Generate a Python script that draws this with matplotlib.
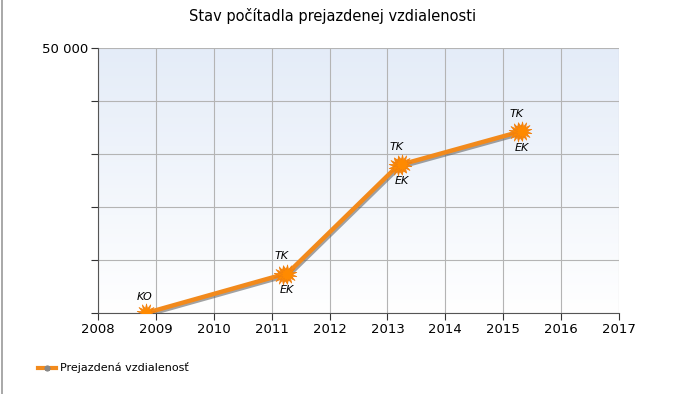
import numpy as np
import matplotlib
matplotlib.use("Agg")
import matplotlib.pyplot as plt
import matplotlib.patheffects as pe
from matplotlib.lines import Line2D
from matplotlib.colors import LinearSegmentedColormap

# Data
years = [2008.83, 2011.19, 2011.27, 2013.18, 2013.25, 2015.25, 2015.32]
distance = [0, 7250, 7450, 27800, 28050, 34100, 34250]
labels = ["KO", "TK", "EK", "TK", "EK", "TK", "EK"]
x_ticks = list(range(2008, 2018))
y_ticks = [0, 10000, 20000, 30000, 40000, 50000]
y_ticklabels = ["", "", "", "", "", "50 000"]
title = "Stav počítadla prejazdenej vzdialenosti"
series_name = "Prejazdená vzdialenosť"

fig = plt.figure(figsize=(6.87, 3.94), dpi=100)
ax = fig.add_axes([98/687, 1-313/394, (619-98)/687, (313-48)/394])

# gradient background
grad = np.linspace(0, 1, 256).reshape(-1, 1)
cmap = LinearSegmentedColormap.from_list("bg", ["#ffffff", "#e4ecf8"])
ax.imshow(grad, aspect="auto", cmap=cmap, origin="lower",
          extent=[2008, 2017, 0, 50000], zorder=0)

ax.set_xlim(2008, 2017)
ax.set_ylim(0, 50000)
ax.set_xticks(x_ticks)
ax.set_xticklabels([str(x) for x in x_ticks], fontsize=9.5)
ax.set_yticks(y_ticks)
ax.set_yticklabels(y_ticklabels, fontsize=9.5)
ax.grid(True, color="#b4b4b4", linewidth=0.8, zorder=1)
ax.tick_params(axis="both", direction="out", length=5, color="#333333", width=0.8, pad=2)
for s in ["top", "right"]:
    ax.spines[s].set_visible(False)
for s in ["left", "bottom"]:
    ax.spines[s].set_color("#555555")
    ax.spines[s].set_linewidth(0.8)

ax.plot(years, distance, color="#f28a1c", linewidth=3.2, solid_capstyle="round",
        zorder=3,
        path_effects=[pe.SimpleLineShadow(offset=(1.0, -1.2), shadow_color="#666666", alpha=0.6),
                      pe.Normal()])
ax.plot(years, distance, linestyle="none", marker=(14, 1, 0), markersize=14,
        color="#ff8a00", markeredgecolor="#f08010", markeredgewidth=0.5, zorder=4)

for x, y, lab in zip(years, distance, labels):
    if lab == "EK":
        ax.annotate(lab, (x, y), xytext=(0, -12), textcoords="offset points",
                    ha="center", va="center", fontsize=8, style="italic", zorder=5)
    elif lab == "TK":
        ax.annotate(lab, (x, y), xytext=(-1, 13.5), textcoords="offset points",
                    ha="center", va="center", fontsize=8, style="italic", zorder=5)
    else:
        ax.annotate(lab, (x, y), xytext=(-1, 11.5), textcoords="offset points",
                    ha="center", va="center", fontsize=8, style="italic", zorder=5)

fig.text(333/687, 1-16/394, title, ha="center", va="center", fontsize=10.5)

# legend
leg_handle = Line2D([0], [0], color="#f28a1c", linewidth=3, marker=(14, 1, 0),
                    markersize=4, markerfacecolor="#888888", markeredgecolor="#888888")
fig.legend([leg_handle], [series_name], loc="center left",
           bbox_to_anchor=(28/687, 1-368/394), frameon=False, fontsize=8,
           handlelength=1.6, handletextpad=0.4)

# left frame line
fig.add_artist(Line2D([1.5/687, 1.5/687], [0, 1], color="#999999", linewidth=1.2,
                      transform=fig.transFigure))

fig.savefig("out.png", dpi=100)
